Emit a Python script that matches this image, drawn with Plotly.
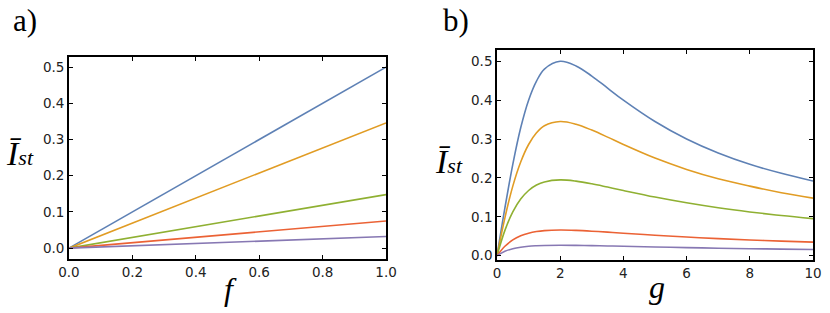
import plotly.graph_objects as go

# Panel a: I_st vs f (straight lines, endpoints)
f_vals = [0.0, 1.0]
a_blue = [0.0, 0.500]
a_orange = [0.0, 0.346]
a_green = [0.0, 0.148]
a_red = [0.0, 0.075]
a_purple = [0.0, 0.032]

# Panel b: I_st vs g
g_vals = [0, 0.25, 0.5, 0.75, 1, 1.25, 1.5, 2, 2.5, 3, 3.5, 4, 5, 6, 7, 8, 9, 10]
b_blue = [0, 0.123, 0.235, 0.329, 0.400, 0.449, 0.480, 0.500, 0.488, 0.462, 0.431, 0.400,
          0.345, 0.300, 0.264, 0.235, 0.212, 0.192]
b_orange = [0, 0.0975, 0.179, 0.241, 0.286, 0.316, 0.334, 0.345, 0.338, 0.323, 0.305, 0.286,
            0.251, 0.222, 0.198, 0.179, 0.162, 0.148]
b_green = [0, 0.0652, 0.1126, 0.1456, 0.1677, 0.1817, 0.1898, 0.195, 0.1918, 0.185, 0.1765,
           0.1677, 0.1508, 0.136, 0.1233, 0.1126, 0.1034, 0.0955]
b_red = [0, 0.0244, 0.0406, 0.0512, 0.0579, 0.0621, 0.0645, 0.066, 0.0651, 0.0631, 0.0606,
         0.0579, 0.0528, 0.0481, 0.0441, 0.0406, 0.0376, 0.0349]
b_purple = [0, 0.0116, 0.0181, 0.0220, 0.0244, 0.0257, 0.0265, 0.0270, 0.0267, 0.0261, 0.0252,
            0.0244, 0.0226, 0.0209, 0.0194, 0.0181, 0.0170, 0.0159]

x_ticks_a = [0, 0.2, 0.4, 0.6, 0.8, 1.0]
x_ticks_b = [0, 2, 4, 6, 8, 10]
y_ticks = [0, 0.1, 0.2, 0.3, 0.4, 0.5]

colors = ["#5E81B5", "#E19C24", "#8FB032", "#EB6235", "#8778B3"]

fig = go.Figure()
for ys, c in zip([a_blue, a_orange, a_green, a_red, a_purple], colors):
    fig.add_trace(go.Scatter(x=f_vals, y=ys, mode="lines", line=dict(color=c, width=1.6),
                             xaxis="x", yaxis="y", showlegend=False))
for ys, c in zip([b_blue, b_orange, b_green, b_red, b_purple], colors):
    fig.add_trace(go.Scatter(x=g_vals, y=ys, mode="lines",
                             line=dict(color=c, width=1.6, shape="spline", smoothing=1.0),
                             xaxis="x2", yaxis="y2", showlegend=False))

tickfont = dict(family="DejaVu Sans", size=13.5, color="#222222")
axis_common = dict(showline=True, linecolor="black", linewidth=1.6, mirror="ticks",
                   ticks="inside", ticklen=4, tickwidth=1.2, tickcolor="black",
                   showgrid=False, zeroline=False, tickfont=tickfont, automargin=False)

fig.update_layout(
    template="none",
    width=830, height=313,
    margin=dict(l=0, r=0, t=0, b=0, pad=0, autoexpand=False),
    paper_bgcolor="white", plot_bgcolor="white",
    xaxis=dict(domain=[0.0831, 0.4651], range=[0, 1], tickvals=x_ticks_a,
               tickformat=".1f", anchor="y", **axis_common),
    yaxis=dict(domain=[0.1725, 0.8179], range=[-0.030, 0.528],
               tickvals=y_ticks, tickformat=".1f", anchor="x", **axis_common),
    xaxis2=dict(domain=[0.5988, 0.9795], range=[0, 10], tickvals=x_ticks_b,
                anchor="y2", **axis_common),
    yaxis2=dict(domain=[0.1693, 0.8403], range=[-0.011, 0.529],
                tickvals=y_ticks, tickformat=".1f", anchor="x2", **axis_common),
)

serif = "Liberation Serif"


def add_text(text, cx, cy, size):
    fig.add_annotation(text=text, x=cx / 830, y=1 - cy / 313, xref="paper", yref="paper",
                       xanchor="center", yanchor="middle", showarrow=False,
                       font=dict(family=serif, size=size, color="black"))


add_text("a)", 25, 21, 31)
add_text("b)", 456, 21, 31)
ylab = "<i>I\u0304<span style='font-size:22px'>st</span></i>"
add_text(ylab, 20, 153, 34)
add_text(ylab, 449, 162, 34)
add_text("<i>f</i>", 230, 289, 32)
add_text("<i>g</i>", 657, 287, 32)

fig.write_html("out.html", config={"displayModeBar": False},
               post_script="document.body.style.margin='0';document.body.style.overflow='hidden';")
